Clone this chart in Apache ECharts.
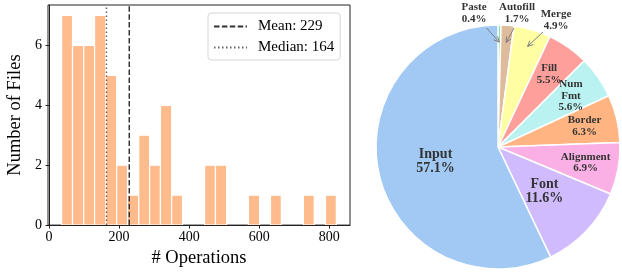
<!DOCTYPE html>
<html>
<head>
<meta charset="utf-8">
<script src="https://cdn.jsdelivr.net/npm/echarts@6/dist/echarts.min.js"></script>
<style>
  html, body { margin: 0; padding: 0; background: #fff; }
  #main { width: 622px; height: 273px; }
</style>
</head>
<body>
<div id="main"></div>
<script>
// histogram of operations per file
var binEdges = [36, 67, 99, 130, 162, 193, 224, 256, 287, 318, 350, 381, 413, 444, 475, 507, 538, 569, 601, 632, 663, 695, 726, 757, 789, 820];
var fileCounts = [7, 6, 6, 7, 5, 2, 1, 3, 2, 4, 1, 0, 0, 2, 2, 0, 0, 1, 0, 1, 0, 0, 1, 0, 1];
var xTicks = [0, 200, 400, 600, 800];
var yTicks = [0, 2, 4, 6];
var meanOps = 229;
var medianOps = 164;

// share of operation types
var opNames = ['Paste', 'Autofill', 'Merge', 'Fill', 'Num\nFmt', 'Border', 'Alignment', 'Font', 'Input'];
var opShares = [0.4, 1.7, 4.9, 5.5, 5.6, 6.3, 6.9, 11.6, 57.1];
var opColors = ['#8de5a1', '#debb9b', '#fffea3', '#ff9f9b', '#b9f2f0', '#ffb482', '#fab0e4', '#d0bbff', '#a1c9f4'];

var serif = 'Liberation Serif';
var yMax = 7.35;
var pieC = [498, 147], pieR = 122;

// where the small-slice labels sit (outside the pie) and where their arrows start
var outLabelPos = [[474, 13], [517, 13], [556, 20]];
var arrowTails = [[486.5, 28], [514, 28], [543, 32]];

var histData = fileCounts.map(function (c, i) {
  return [binEdges[i], binEdges[i + 1], c];
});

function pieLabel(p) {
  return p.name + '\n' + p.value.toFixed(1) + '%';
}

// arrows from outside labels into their slices
var arrows = [];
var cum = 0;
for (var i = 0; i < opShares.length; i++) {
  var mid = (cum + opShares[i] / 2) / 100 * Math.PI * 2;
  cum += opShares[i];
  if (i > 2) continue;
  var tx = pieC[0] + 0.86 * pieR * Math.sin(mid);
  var ty = pieC[1] - 0.86 * pieR * Math.cos(mid);
  var sx = arrowTails[i][0], sy = arrowTails[i][1];
  var a = Math.atan2(ty - sy, tx - sx);
  var hl = 6, hw = 0.45;
  arrows.push({
    type: 'line', silent: true, z: 20,
    shape: { x1: sx, y1: sy, x2: tx, y2: ty },
    style: { stroke: '#7f7f7f', lineWidth: 1 }
  });
  arrows.push({
    type: 'polyline', silent: true, z: 20,
    shape: { points: [
      [tx - hl * Math.cos(a - hw), ty - hl * Math.sin(a - hw)],
      [tx, ty],
      [tx - hl * Math.cos(a + hw), ty - hl * Math.sin(a + hw)]
    ] },
    style: { stroke: '#7f7f7f', lineWidth: 1, fill: null }
  });
}

var chart = echarts.init(document.getElementById('main'));
chart.setOption({
  animation: false,
  grid: {
    left: 48, right: 272, top: 5, bottom: 46,
    show: true, borderColor: '#222', borderWidth: 1
  },
  legend: {
    orient: 'vertical',
    left: 208, top: 13,
    itemWidth: 33, itemHeight: 14, itemGap: 6,
    padding: [6, 6, 5, 5],
    backgroundColor: 'rgba(255,255,255,0.85)',
    borderColor: '#d6d6d6', borderWidth: 1, borderRadius: 3,
    itemStyle: { color: 'rgba(0,0,0,0)', borderWidth: 0 },
    textStyle: { fontFamily: serif, fontSize: 15, color: '#000', padding: [0, 0, 0, 6] },
    data: ['Mean: ' + meanOps, 'Median: ' + medianOps]
  },
  xAxis: {
    type: 'value', min: -3, max: 859, z: 10,
    name: '# Operations', nameLocation: 'middle', nameGap: 23,
    nameTextStyle: { fontFamily: serif, fontSize: 18.5, color: '#000' },
    axisLine: { show: true, lineStyle: { color: '#222', width: 1 } },
    axisTick: { show: true, customValues: xTicks, length: 3.5, lineStyle: { color: '#222' } },
    axisLabel: { customValues: xTicks, fontFamily: serif, fontSize: 14, color: '#000', margin: 5 },
    splitLine: { show: false }
  },
  yAxis: {
    type: 'value', min: 0, max: yMax, z: 10,
    name: 'Number of Files', nameLocation: 'middle', nameGap: 23,
    nameTextStyle: { fontFamily: serif, fontSize: 18.5, color: '#000' },
    axisLine: { show: true, lineStyle: { color: '#222', width: 1 } },
    axisTick: { show: true, customValues: yTicks, length: 3.5, lineStyle: { color: '#222' } },
    axisLabel: { customValues: yTicks, fontFamily: serif, fontSize: 14, color: '#000', margin: 6 },
    splitLine: { show: false }
  },
  graphic: arrows,
  series: [
    {
      type: 'custom',
      data: histData,
      renderItem: function (params, api) {
        if (!api.value(2)) return null;
        var p0 = api.coord([api.value(0), api.value(2)]);
        var p1 = api.coord([api.value(1), 0]);
        return {
          type: 'rect',
          shape: { x: p0[0], y: p0[1], width: p1[0] - p0[0], height: p1[1] - p0[1] },
          style: { fill: '#ffbb8c', stroke: '#fff', lineWidth: 1.2 }
        };
      },
      z: 2
    },
    {
      name: 'Mean: ' + meanOps,
      type: 'line',
      data: [[meanOps, 0], [meanOps, yMax]],
      symbol: 'none',
      itemStyle: { color: '#333' },
      lineStyle: { color: '#333', width: 1.5, type: [5.5, 2.4] },
      z: 5
    },
    {
      name: 'Median: ' + medianOps,
      type: 'line',
      data: [[medianOps, 0], [medianOps, yMax]],
      symbol: 'none',
      itemStyle: { color: '#666' },
      lineStyle: { color: '#666', width: 1.5, type: [1.5, 2.5] },
      z: 5
    },
    {
      type: 'pie',
      center: pieC, radius: [0, pieR],
      startAngle: 90, clockwise: true,
      silent: true,
      itemStyle: { borderColor: '#fff', borderWidth: 1.5 },
      label: {
        show: false, position: 'inside', formatter: pieLabel,
        fontFamily: serif, fontWeight: 'bold', fontSize: 14, lineHeight: 14, color: '#333'
      },
      labelLine: { show: false },
      emphasis: { disabled: true },
      data: opNames.map(function (n, i) {
        return { name: n, value: opShares[i], itemStyle: { color: opColors[i] }, label: { show: i >= 7 } };
      })
    },
    {
      type: 'pie',
      center: pieC, radius: [50, pieR],
      startAngle: 90, clockwise: true,
      silent: true,
      itemStyle: { color: 'rgba(0,0,0,0)', borderWidth: 0 },
      label: {
        show: true, position: 'inside', formatter: pieLabel,
        fontFamily: serif, fontWeight: 'bold', fontSize: 11, lineHeight: 11.5, color: '#333'
      },
      labelLine: { show: false },
      labelLayout: function (p) {
        if (p.dataIndex < 3) {
          return { x: outLabelPos[p.dataIndex][0], y: outLabelPos[p.dataIndex][1], align: 'center', verticalAlign: 'middle' };
        }
      },
      emphasis: { disabled: true },
      z: 3,
      data: opNames.map(function (n, i) {
        return { name: n, value: opShares[i], label: { show: i < 7 } };
      })
    }
  ]
});
</script>
</body>
</html>
